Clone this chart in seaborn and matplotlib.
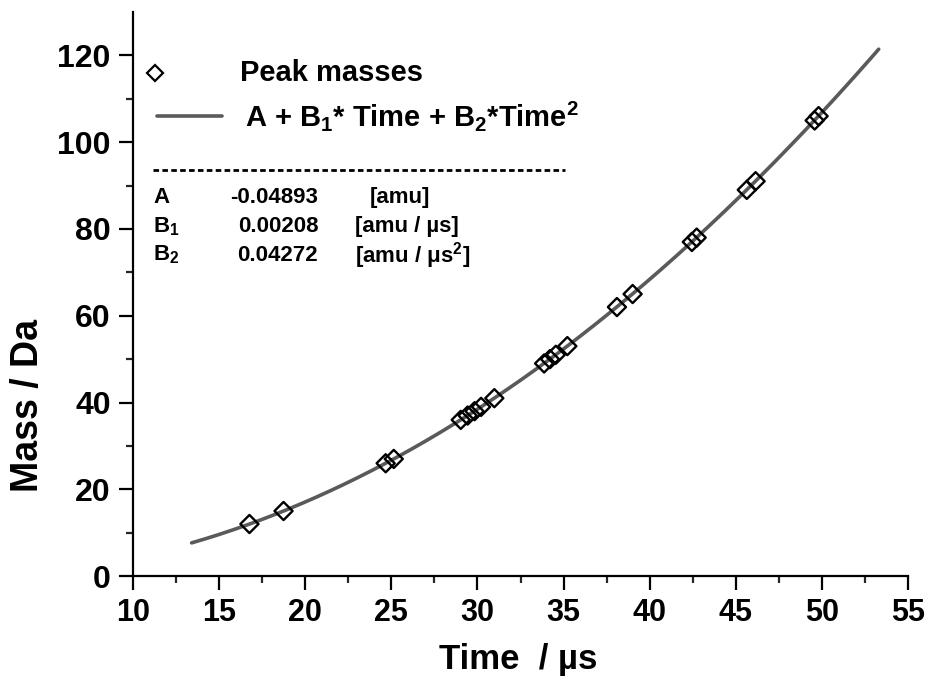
import numpy as np
import pandas as pd
import matplotlib
matplotlib.use("Agg")
import matplotlib.pyplot as plt
import seaborn as sns

# ---- data ----
peak_time = [16.76, 18.74, 24.67, 25.14, 29.03, 29.43, 29.83, 30.21, 30.98,
             33.87, 34.21, 34.55, 35.22, 38.10, 39.01, 42.45, 42.73,
             45.64, 46.15, 49.58, 49.81]
peak_mass = [12, 15, 26, 27, 36, 37, 38, 39, 41,
             49, 50, 51, 53, 62, 65, 77, 78,
             89, 91, 105, 106]
coef_A = -0.04893
coef_B1 = 0.00208
coef_B2 = 0.04272
fit_range = [13.4, 53.3]
x_ticks = [10, 15, 20, 25, 30, 35, 40, 45, 50, 55]
y_ticks = [0, 20, 40, 60, 80, 100, 120]

sns.set_theme(style="ticks")
plt.rcParams['font.family'] = ['Liberation Sans', 'DejaVu Sans']
plt.rcParams['text.color'] = 'black'
plt.rcParams['axes.labelcolor'] = 'black'
plt.rcParams['mathtext.fontset'] = 'custom'
plt.rcParams['mathtext.rm'] = 'Liberation Sans:bold'
plt.rcParams['mathtext.bf'] = 'Liberation Sans:bold'
plt.rcParams['mathtext.it'] = 'Liberation Sans:bold'
plt.rcParams['mathtext.default'] = 'bf'

fig = plt.figure(figsize=(9.27, 6.85), dpi=100)
ax = fig.add_axes([0.1435, 0.159, 0.836, 0.8235])

t_fit = np.linspace(fit_range[0], fit_range[1], 300)
fit_df = pd.DataFrame({"t": t_fit, "m": coef_A + coef_B1 * t_fit + coef_B2 * t_fit ** 2})
pk_df = pd.DataFrame({"t": peak_time, "m": peak_mass})

sns.lineplot(data=fit_df, x="t", y="m", ax=ax, color="#5a5a5a", lw=2.6, zorder=2)
sns.scatterplot(data=pk_df, x="t", y="m", ax=ax, marker="D", s=85,
                facecolor="none", edgecolor="black", linewidth=1.7, zorder=3)

ax.set_xlim(10, 55)
ax.set_ylim(0, 130)
ax.set_xticks(x_ticks)
ax.set_yticks(y_ticks)
ax.set_xticks(np.arange(12.5, 55, 5), minor=True)
ax.set_yticks(np.arange(10, 130, 20), minor=True)
for s in ["top", "right"]:
    ax.spines[s].set_visible(False)
for s in ["left", "bottom"]:
    ax.spines[s].set_linewidth(1.6)
    ax.spines[s].set_color("black")
ax.tick_params(axis="both", which="major", direction="out", length=10, width=1.6,
               colors="black", pad=6)
ax.tick_params(axis="both", which="minor", direction="out", length=5, width=1.6)
for lab in ax.get_yticklabels():
    lab.set_fontweight("heavy")
    lab.set_fontsize(23)
for lab in ax.get_xticklabels():
    lab.set_fontweight("bold")
    lab.set_fontsize(22)

ax.set_xlabel("Time  / \u00b5s", fontsize=25, fontweight="bold")
ax.xaxis.set_label_coords(0.497, -0.118)
ax.set_ylabel("Mass / Da", fontsize=27, fontweight="bold")
ax.yaxis.set_label_coords(-0.112, 0.303)

# legend (drawn in axes coordinates)
ax.plot([0.028], [0.892], transform=ax.transAxes, marker="D", ls="none",
        markerfacecolor="none", markeredgecolor="black", markeredgewidth=1.6,
        markersize=8, clip_on=False)
ax.text(0.138, 0.892, "Peak masses", transform=ax.transAxes, fontsize=21,
        fontweight="bold", va="center")
ax.plot([0.031, 0.115], [0.816, 0.816], transform=ax.transAxes, color="#5a5a5a",
        lw=2.6)
ax.text(0.145, 0.816, r"A + B$_{1}$* Time + B$_{2}$*Time$^{2}$", transform=ax.transAxes,
        fontsize=21, fontweight="bold", va="center")

# parameter table
ax.plot([0.026, 0.558], [0.72, 0.72], transform=ax.transAxes, color="black",
        lw=2, ls=(0, (2.0, 1.2)))
rows = [("A", "-0.04893", "[amu]", 0.306),
        (r"B$_{1}$", "0.00208", "[amu / \u00b5s]", 0.286),
        (r"B$_{2}$", "0.04272", r"[amu / $\mu$s$^{2}$]", 0.286)]
ys = [0.672, 0.62, 0.569]
for (n, v, u, ux), y in zip(rows, ys):
    ax.text(0.026, y, n, transform=ax.transAxes, fontsize=16, fontweight="bold", va="center")
    ax.text(0.239, y, v, transform=ax.transAxes, fontsize=16, fontweight="bold",
            va="center", ha="right")
    ax.text(ux, y, u, transform=ax.transAxes, fontsize=16, fontweight="bold", va="center")

fig.savefig("out.png", dpi=100)
